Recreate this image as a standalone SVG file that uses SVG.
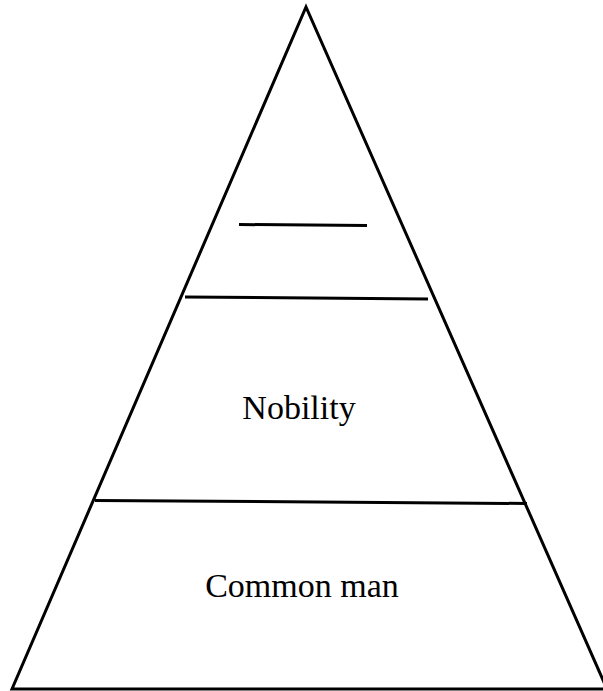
<svg xmlns="http://www.w3.org/2000/svg" width="603" height="691" viewBox="0 0 603 691">
<style>
.ln{fill:none;stroke:#000;stroke-width:3;stroke-linecap:butt;stroke-linejoin:miter}
.lbl{font-family:"Liberation Serif","Times New Roman",serif;font-size:34px;fill:#000;text-anchor:middle}
</style>
<rect width="603" height="691" fill="#fff"/>
<g id="pyramid">
<polyline class="ln" points="607,689 306,7 12,689 603,689"/>
</g>
<g id="connectors">
<line class="ln" x1="239" y1="224.5" x2="367" y2="225.5"/>
<line class="ln" x1="185" y1="297" x2="428" y2="299"/>
<line class="ln" x1="95" y1="500.5" x2="527" y2="503.5"/>
</g>
<g id="nobility">
<text class="lbl" x="299" y="419">Nobility</text>
</g>
<g id="common">
<text class="lbl" x="302" y="597">Common man</text>
</g>
</svg>
